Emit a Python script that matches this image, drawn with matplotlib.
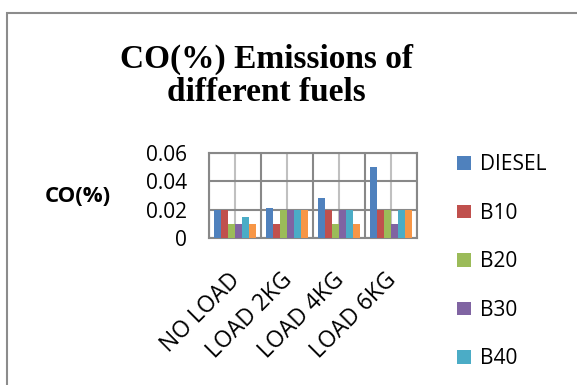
import matplotlib.pyplot as plt
import numpy as np
from matplotlib.patches import Rectangle
from matplotlib.transforms import ScaledTranslation

LOADS = ["NO LOAD", "LOAD 2KG", "LOAD 4KG", "LOAD 6KG"]
FUELS = ["DIESEL", "B10", "B20", "B30", "B40", "B50"]

DIESEL = [0.020, 0.021, 0.028, 0.050]
B10 = [0.020, 0.010, 0.020, 0.020]
B20 = [0.010, 0.020, 0.010, 0.020]
B30 = [0.010, 0.020, 0.020, 0.010]
B40 = [0.015, 0.020, 0.020, 0.020]
B50 = [0.010, 0.020, 0.010, 0.020]

COLORS = ["#4F81BD", "#C0504D", "#9BBB59", "#8064A2", "#4BACC6", "#F79646"]

plt.rcParams["font.family"] = ["Open Sans", "DejaVu Sans"]

fig = plt.figure(figsize=(5.77, 3.85), dpi=100)

# outer chart frame, runs off the right and bottom edges
fig.patches.append(Rectangle((7 / 577, -0.1), 1.2, 1 - 13 / 385 + 0.1,
                             transform=fig.transFigure, fill=False,
                             edgecolor="#8c8c8c", linewidth=1.5))

ax = fig.add_axes([209 / 577, 1 - 238 / 385, 208 / 577, 85 / 385])

series = [DIESEL, B10, B20, B30, B40, B50]
x = np.arange(len(LOADS))
group = 0.8
w = group / len(series)
bars = []
for i, vals in enumerate(series):
    b = ax.bar(x - group / 2 + w * (i + 0.5), vals, width=w * 0.92,
               color=COLORS[i], label=FUELS[i], zorder=3)
    bars.append(b)

ax.set_xlim(-0.5, len(LOADS) - 0.5)
ax.set_ylim(0, 0.06)
ax.set_yticks([0, 0.02, 0.04, 0.06])
ax.set_yticklabels(["0", "0.02", "0.04", "0.06"])
ax.set_xticks(x)
ax.set_xticklabels(LOADS, rotation=45, ha="right", rotation_mode="anchor")
ax.set_xticks(np.arange(-0.5, len(LOADS)), minor=True)
ax.tick_params(axis="y", length=0, pad=16, labelsize=15)
ax.tick_params(axis="x", which="both", length=0, pad=22, labelsize=16.5)

# nudge the slanted category labels a little to the left
shift = ScaledTranslation(-7 / 100, 0, fig.dpi_scale_trans)
for lbl in ax.get_xticklabels():
    lbl.set_transform(lbl.get_transform() + shift)

ax.grid(axis="y", color="#888888", linewidth=1.5, zorder=0)
ax.grid(axis="x", which="major", color="#c0c0c0", linewidth=1.5, zorder=0)
ax.grid(axis="x", which="minor", color="#888888", linewidth=1.5, zorder=0)
for s in ax.spines.values():
    s.set_color("#888888")
    s.set_linewidth(1.5)

fig.text(78 / 577, 1 - 197 / 385, "CO(%)", fontsize=16, fontweight="bold",
         ha="center", va="center")

fig.text(266 / 577, 1 - 76 / 385, "CO(%) Emissions of\ndifferent fuels",
         family="Liberation Serif", fontsize=24, fontweight="bold",
         ha="center", va="center", linespacing=1.1)

# only the first five legend rows fit inside the frame
fig.legend(bars[:5], FUELS[:5], loc="upper left",
           bbox_to_anchor=(449 / 577, 1 - 146 / 385),
           frameon=False, fontsize=15, handlelength=0.65, handleheight=0.65,
           labelspacing=1.32, handletextpad=0.45, borderaxespad=0)

fig.savefig("out.png", dpi=100)
